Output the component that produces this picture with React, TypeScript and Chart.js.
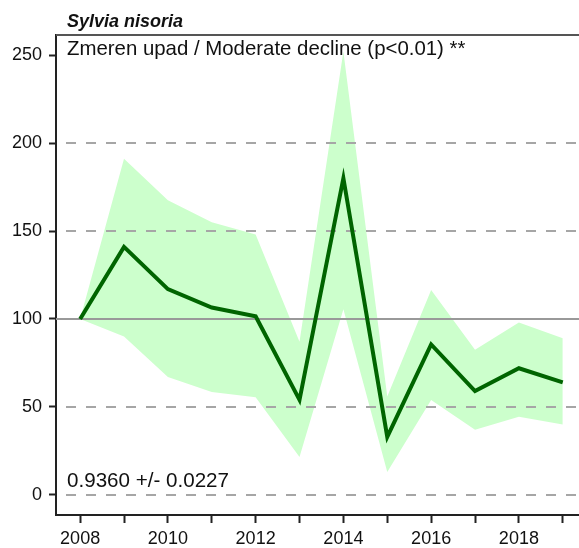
import React, { useEffect, useRef } from "react";
import { Chart, registerables } from "chart.js";

Chart.register(...registerables);

const years = [2008, 2009, 2010, 2011, 2012, 2013, 2014, 2015, 2016, 2017, 2018, 2019];
const indexValues = [100, 141, 117, 106.5, 101.5, 54, 180, 33, 85.5, 59, 72, 64];
const upperCI = [100, 191, 167.5, 155, 148, 87, 252, 56, 116.5, 82.5, 98, 89];
const lowerCI = [100, 90, 67, 58.5, 55.5, 21.5, 105.5, 13, 54, 37, 44.5, 40];
const yTicks = [0, 50, 100, 150, 200, 250];
const dashedLevels = [0, 50, 150, 200];
const baselineLevel = 100;

const titleText = "Sylvia nisoria";
const trendText = "Zmeren upad / Moderate decline (p<0.01) **";
const slopeText = "0.9360 +/- 0.0227";

const FONT = '"Liberation Sans", Arial, Helvetica, sans-serif';

export default function App() {
  const canvasRef = useRef<HTMLCanvasElement | null>(null);

  useEffect(() => {
    const canvas = canvasRef.current;
    if (!canvas) return;

    const gridPlugin = {
      id: "customGrid",
      beforeDatasetDraw(chart: any, args: any) {
        if (args.index !== 0) return;
        const { ctx, chartArea, scales } = chart;
        const y = scales.y;
        ctx.save();
        ctx.beginPath();
        ctx.rect(chartArea.left, chartArea.top, chartArea.right - chartArea.left, chartArea.bottom - chartArea.top);
        ctx.clip();
        ctx.lineWidth = 2;
        ctx.strokeStyle = "#a6a6a6";
        ctx.setLineDash([10, 10]);
        dashedLevels.forEach((v) => {
          const py = Math.round(y.getPixelForValue(v));
          ctx.beginPath();
          ctx.moveTo(chartArea.left + 10, py);
          ctx.lineTo(chartArea.right, py);
          ctx.stroke();
        });
        ctx.setLineDash([]);
        ctx.strokeStyle = "#999999";
        const pb = Math.round(y.getPixelForValue(baselineLevel));
        ctx.beginPath();
        ctx.moveTo(chartArea.left, pb);
        ctx.lineTo(chartArea.right, pb);
        ctx.stroke();
        ctx.restore();
      },
    };

    const textPlugin = {
      id: "customText",
      afterDraw(chart: any) {
        const { ctx, chartArea } = chart;
        ctx.save();
        ctx.strokeStyle = "#555555";
        ctx.lineWidth = 2;
        ctx.beginPath();
        ctx.moveTo(chartArea.left, chartArea.top);
        ctx.lineTo(chartArea.right, chartArea.top);
        ctx.stroke();

        ctx.fillStyle = "#111111";
        ctx.textAlign = "left";
        ctx.textBaseline = "alphabetic";
        ctx.font = `bold italic 18px ${FONT}`;
        ctx.fillText(titleText, 67, 27);
        ctx.font = `20.4px ${FONT}`;
        ctx.fillText(trendText, 67, 55);
        ctx.font = `20.6px ${FONT}`;
        ctx.fillText(slopeText, 67, 487);
        ctx.restore();
      },
    };

    const chart = new Chart(canvas, {
      type: "line",
      data: {
        datasets: [
          {
            label: "Index",
            data: years.map((x, i) => ({ x, y: indexValues[i] })),
            borderColor: "#006400",
            borderWidth: 4,
            pointRadius: 0,
            fill: false,
            tension: 0,
            borderJoinStyle: "miter",
          },
          {
            label: "Lower",
            data: years.map((x, i) => ({ x, y: lowerCI[i] })),
            borderWidth: 0,
            borderColor: "rgba(0,0,0,0)",
            pointRadius: 0,
            fill: false,
            tension: 0,
          },
          {
            label: "Upper",
            data: years.map((x, i) => ({ x, y: upperCI[i] })),
            borderWidth: 0,
            borderColor: "rgba(0,0,0,0)",
            backgroundColor: "#ccffcc",
            pointRadius: 0,
            fill: 1,
            tension: 0,
          },
        ],
      },
      options: {
        responsive: false,
        animation: false,
        events: [],
        layout: { padding: { left: 0, right: 0, top: 35, bottom: 0 } },
        plugins: {
          legend: { display: false },
          title: { display: false },
          tooltip: { enabled: false },
        },
        scales: {
          x: {
            type: "linear",
            min: 2007.45,
            max: 2019.37,
            afterBuildTicks(scale: any) {
              scale.ticks = years.map((v) => ({ value: v }));
            },
            afterFit(scale: any) {
              scale.height = 33;
            },
            grid: {
              display: true,
              drawOnChartArea: false,
              drawTicks: true,
              tickLength: 8,
              tickWidth: 2,
              tickColor: "#222222",
            },
            border: { display: true, color: "#222222", width: 2 },
            ticks: {
              autoSkip: false,
              maxRotation: 0,
              padding: 5,
              color: "#111111",
              font: { family: FONT, size: 18 },
              callback: (v: any) => (Number(v) % 2 === 0 ? String(v) : ""),
            },
          },
          y: {
            type: "linear",
            min: -11.4,
            max: 261.4,
            afterBuildTicks(scale: any) {
              scale.ticks = yTicks.map((v) => ({ value: v }));
            },
            afterFit(scale: any) {
              scale.width = 56;
            },
            grid: {
              display: true,
              drawOnChartArea: false,
              drawTicks: true,
              tickLength: 7,
              tickWidth: 2,
              tickColor: "#222222",
            },
            border: { display: true, color: "#222222", width: 2 },
            ticks: {
              padding: 7,
              color: "#111111",
              font: { family: FONT, size: 18 },
              callback: (v: any) => String(v),
            },
          },
        },
      },
      plugins: [gridPlugin, textPlugin],
    } as any);

    return () => {
      chart.destroy();
    };
  }, []);

  return (
    <div style={{ position: "fixed", left: 0, top: 0, width: 579, height: 548, background: "#ffffff" }}>
      <canvas ref={canvasRef} width={579} height={548} style={{ display: "block" }} />
    </div>
  );
}
